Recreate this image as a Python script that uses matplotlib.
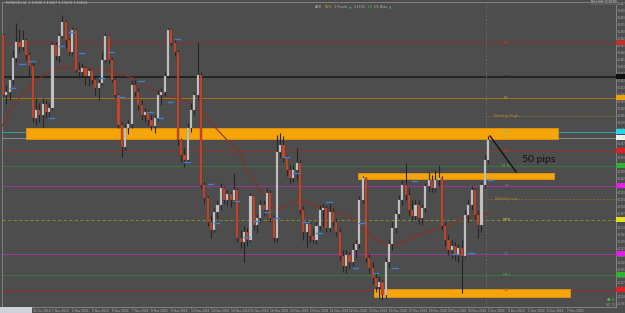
import matplotlib
matplotlib.use("Agg")
import matplotlib.pyplot as plt
import numpy as np
from matplotlib.patches import Rectangle
from matplotlib.transforms import blended_transform_factory

# ---------------- data (prices in points: price * 10000) ----------------
first_open = 11465
close_pts = [11405,11408,11420,11442,11458,11453,11460,11445,11434,11382,
             11390,11385,11396,11388,11392,11455,11444,11464,11478,11460,
             11448,11470,11430,11428,11432,11424,11429,11420,11412,11417,
             11440,11464,11440,11420,11405,11375,11353,11372,11376,11415,
             11408,11395,11385,11388,11380,11374,11382,11405,11408,11424,
             11470,11457,11448,11360,11345,11340,11372,11390,11405,11425,
             11315,11302,11278,11270,11288,11295,11312,11300,11306,11300,
             11310,11262,11258,11268,11260,11304,11275,11282,11295,11290,
             11307,11282,11262,11348,11355,11342,11330,11322,11330,11337,
             11290,11268,11276,11264,11260,11274,11290,11292,11272,11288,
             11278,11268,11244,11234,11245,11238,11250,11256,11300,11322,
             11242,11232,11222,11213,11218,11205,11238,11256,11272,11286,
             11300,11315,11305,11290,11284,11295,11282,11292,11314,11320,
             11312,11320,11322,11274,11260,11250,11254,11245,11252,11244,
             11285,11295,11310,11285,11275,11315,11340,11360]
high_pts = [11467,11415,11423,11450,11477,11471,11470,11462,11448,11438,
            11402,11397,11402,11400,11397,11458,11458,11467,11485,11480,
            11462,11473,11472,11438,11437,11434,11432,11430,11422,11421,
            11448,11467,11465,11442,11422,11407,11378,11376,11380,11420,
            11420,11412,11400,11392,11390,11385,11385,11410,11412,11428,
            11472,11471,11460,11450,11362,11352,11377,11397,11408,11458,
            11428,11318,11304,11285,11292,11300,11317,11314,11310,11308,
            11327,11312,11270,11274,11272,11307,11305,11286,11300,11300,
            11312,11310,11285,11365,11367,11364,11345,11335,11335,11352,
            11340,11294,11280,11278,11272,11278,11295,11296,11295,11297,
            11292,11282,11272,11250,11250,11248,11257,11260,11304,11324,
            11323,11246,11238,11228,11224,11220,11242,11260,11278,11290,
            11305,11320,11337,11312,11300,11300,11300,11296,11317,11328,
            11325,11330,11335,11324,11278,11265,11260,11258,11256,11260,
            11290,11300,11314,11312,11290,11318,11345,11364]
low_pts = [11403,11396,11400,11416,11438,11448,11450,11440,11424,11378,
           11375,11378,11373,11382,11383,11390,11440,11438,11462,11452,
           11445,11445,11428,11422,11425,11415,11414,11416,11405,11400,
           11415,11438,11437,11418,11402,11372,11343,11350,11366,11372,
           11404,11390,11380,11378,11375,11370,11367,11380,11395,11404,
           11422,11454,11444,11355,11338,11333,11338,11368,11385,11400,
           11312,11297,11274,11262,11268,11282,11290,11296,11295,11293,
           11297,11258,11252,11238,11254,11258,11270,11267,11278,11285,
           11288,11278,11258,11258,11342,11338,11324,11317,11318,11320,
           11286,11260,11253,11258,11257,11256,11270,11274,11268,11268,
           11274,11264,11240,11228,11227,11232,11234,11242,11252,11297,
           11238,11227,11216,11208,11202,11200,11202,11232,11250,11267,
           11282,11295,11300,11285,11280,11280,11276,11275,11288,11308,
           11308,11308,11314,11270,11254,11245,11242,11240,11238,11207,
           11242,11278,11290,11280,11262,11268,11312,11337]

# moving average read at a few bars
ma_bar = [-0.9, 2.1, 5.2, 9.1, 13.3, 17.3, 20.3, 23.3, 26.4, 29.4, 32.4, 36.4, 39.4,
          41.5, 45.5, 49.7, 52.7, 55.8, 59.7, 63.6, 67.9, 71.8, 73.9, 77.0, 80.0,
          83.0, 86.1, 89.1, 92.1, 96.1, 100.0, 105.2, 108.2, 113.3, 117.3, 120.3,
          125.5, 130.3, 135.5, 140.6, 147.0]
ma_pts = [11370, 11390, 11403, 11417, 11427, 11432, 11433, 11432, 11432, 11430,
          11428, 11425, 11422, 11418, 11410, 11403, 11403, 11398, 11390, 11375,
          11360, 11347, 11330, 11313, 11303, 11290, 11295, 11300, 11297, 11293,
          11290, 11283, 11273, 11260, 11253, 11257, 11265, 11270, 11275, 11283,
          11287]

# short blue signal marks (bar, price points)
sig_bar = [2, 5, 8, 14, 17, 20, 23, 29, 32, 35, 41, 44, 47, 50, 52, 55, 62, 64, 70,
           73, 76, 79, 82, 85, 88, 91, 95, 98, 106, 108, 112, 118, 124, 136, 141, 147]
sig_pts = [11412, 11436, 11439, 11382, 11454, 11468, 11447, 11422, 11448, 11403,
           11419, 11388, 11382, 11398, 11461, 11338, 11316, 11277, 11299, 11263,
           11279, 11288, 11282, 11343, 11327, 11278, 11267, 11298, 11232, 11277,
           11227, 11232, 11319, 11246, 11247, 11320]

# horizontal levels: points, label, line colour, style, axis-marker colour
level_pts = [11457, 11423, 11402, 11368, 11362, 11349, 11334, 11314, 11280, 11246, 11225, 11210]
level_lbl = ["R3", "MR2", "R2", "MR1", "", "R1", "M R1", "PP", "MPP", "S1", "MS1", "S2"]
level_col = ["#7a3a32", "#1c1c1c", "#a0701f", "#3a9aa0", "#858585", "#853a2f",
             "#3b723b", "#8e3a8e", "#85852e", "#923c92", "#3b723b", "#923030"]
level_ls = ["-", "-", "-", "-", "-", "-", "-", "-", "--", "-", "-", "-"]
level_mark = ["#c0302a", "#101010", "#f0a000", "#20d8e8", "#eeeeee", "#e02020",
              "#30b030", "#e020e0", "#e0e020", "#e020e0", "#30b030", "#e02020"]
level_txt = ["#b04030", "#2a2a2a", "#c89030", "#80c080", "", "#c04030",
             "#50a050", "#b050b0", "#c0c040", "#b050b0", "#50a050", "#d04030"]

# weekly high / low dashed levels (start bar)
week_pts = [11383.5, 11301]
week_lbl = ["Weekly High", "Weekly Low"]
week_start = 146.7

# supply / demand zones: (bar start, bar end, low pts, high pts)
zone_start = [7.0, 107.6, 112.4]
zone_end = [168.2, 167.0, 171.8]
zone_low = [11361, 11320.5, 11203]
zone_high = [11372, 11327, 11211]

current_bar = 146.4
tick_labels = ["31 Oct 2018", "1 Nov 2018", "2 Nov 2018",
               "5 Nov 2018", "6 Nov 2018", "7 Nov 2018", "8 Nov 2018", "9 Nov 2018",
               "12 Nov 2018", "13 Nov 2018", "14 Nov 2018", "15 Nov 2018", "16 Nov 2018",
               "19 Nov 2018", "20 Nov 2018", "21 Nov 2018", "22 Nov 2018", "23 Nov 2018",
               "26 Nov 2018", "27 Nov 2018", "28 Nov 2018", "29 Nov 2018", "30 Nov 2018",
               "3 Dec 2018", "4 Dec 2018", "5 Dec 2018", "6 Dec 2018", "7 Dec 2018"]

# ---------------- drawing ----------------
S = 1e-4
close = np.array(close_pts) * S
high = np.array(high_pts) * S
low = np.array(low_pts) * S
opn = np.concatenate([[first_open * S], close[:-1]])
n = len(close)
idx = np.arange(n)

BG = "#4d4d4d"
fig = plt.figure(figsize=(6.25, 3.13), dpi=100, facecolor=BG)
ax = fig.add_axes([2 / 625, 6 / 313, 614 / 625, 305 / 313], facecolor=BG)
ax.set_xlim(-0.303, 185.76)
ax.set_ylim(1.1193, 1.1498)

# level lines
for p, c, ls in zip(level_pts, level_col, level_ls):
    if ls == "--":
        ax.axhline(p * S, color=c, lw=0.8, ls=(0, (3, 2)), zorder=1)
    else:
        ax.axhline(p * S, color=c, lw=1.2 if c == "#1c1c1c" else 0.8, zorder=1)
for p in week_pts:
    ax.plot([week_start, 186], [p * S, p * S], color="#85672a", lw=0.7, ls=(0, (2, 1.5)), zorder=1)

ax.axvline(current_bar, color="#6c6c6c", lw=0.6, ls=(0, (2, 2)), zorder=1)

# zones
for xs, xe, lo, hi in zip(zone_start, zone_end, zone_low, zone_high):
    ax.add_patch(Rectangle((xs, lo * S), xe - xs, (hi - lo) * S, facecolor="#f5a50a",
                           edgecolor="#e09406", lw=0.6, zorder=2))

# moving average
ax.plot(ma_bar, np.array(ma_pts) * S, color="#8c2f22", lw=0.8, zorder=3)

# candles: light grey = rising, red = falling
rising = close > opn
ax.vlines(idx, low, high, color="#262626", lw=0.8, zorder=4)
body_lo = np.minimum(opn, close)
body_h = np.maximum(np.abs(close - opn), 0.00012)
ax.bar(idx[rising], body_h[rising], bottom=body_lo[rising], width=0.62, color="#c4c4c4",
       edgecolor="#9a9a9a", lw=0.2, zorder=5)
falling = ~rising
ax.bar(idx[falling], body_h[falling], bottom=body_lo[falling], width=0.62, color="#c9462a",
       edgecolor="#8a2a1a", lw=0.2, zorder=5)

# blue signal marks
for b, p in zip(sig_bar, sig_pts):
    ax.plot([b, b + 1.6], [p * S, p * S], color="#3d7fc8", lw=1.0, zorder=6)

# level labels
for p, t, c in zip(level_pts, level_lbl, level_txt):
    if t:
        ax.text(152.6, p * S, t, fontsize=2.8, color=c, ha="center", va="center", zorder=7)
for p, t in zip(week_pts, week_lbl):
    ax.text(152.6, p * S, t, fontsize=2.8, color="#b08a3a", ha="center", va="center", zorder=7)

# right-axis level markers
tr = blended_transform_factory(ax.transAxes, ax.transData)
for p, c in zip(level_pts, level_mark):
    ax.add_patch(Rectangle((1.0, p * S - 0.00025), 0.0147, 0.0005, transform=tr,
                           facecolor=c, edgecolor="none", clip_on=False, zorder=8))

# 50 pips annotation
ax.plot([147.6, 155.5], [1.1364, 1.1328], color="#111111", lw=1.0, zorder=8)
ax.text(157.3, 1.1340, "50 pips", fontsize=7.5, family="Lato", color="#111111",
        ha="left", va="center", zorder=8)

# axes styling
ax.yaxis.tick_right()
yt = np.arange(1.1196, 1.1498, 0.0007)
ax.set_yticks(yt)
ax.set_yticklabels(["%.4f" % v for v in yt], family="Liberation Sans")
ax.tick_params(axis="y", labelsize=1.8, colors="#b0b0b0", length=0.8, width=0.4, pad=0.2)
ax.set_xticks(9 + np.arange(len(tick_labels)) * 6)
ax.set_xticklabels(tick_labels, ha="left", family="Liberation Sans")
ax.tick_params(axis="x", labelsize=2.3, colors="#b0b0b0", length=0.8, width=0.4, pad=0.4)
for s in ax.spines.values():
    s.set_color("#8a8a8a")
    s.set_linewidth(0.6)

# header texts
fig.text(6 / 625, 1 - 2.5 / 313, "EURUSD,H4  1.13598 1.13657 1.13574 1.13614", fontsize=2.4,
         color="#c0c0c0", va="center")
hdr = [("ADR", "#b0b0b0"), ("55%", "#d0b030"), ("1 Pivots", "#b0b0b0"), ("\u25b2", "#40c040"),
       ("1.1390", "#b0b0b0"), ("H4", "#40c040"), ("D1 Bias", "#b0b0b0"), ("\u25b2", "#40c040")]
renderer = fig.canvas.get_renderer()
xcur = 315.0
for t, c in hdr:
    tx = fig.text(xcur / 625, 1 - 7.5 / 313, t, fontsize=2.4, color=c, va="center")
    bb = tx.get_window_extent(renderer)
    xcur = bb.x1 + 2.0
fig.text(604 / 625, 1 - 2 / 313, "Time left: 2:13:05", fontsize=2.2, color="#c8c8c8",
         ha="center", va="center",
         bbox=dict(boxstyle="square,pad=0.2", fc="#5c5c5c", ec="none"))
fig.text(607 / 625, 1 - 299.5 / 313, "\u25cf 0", fontsize=3.0, color="#40c040", ha="left", va="center")
fig.text(606 / 625, 1 - 304.5 / 313, "SP 11", fontsize=2.4, color="#a0a0a0", ha="left", va="center")
fig.patches.append(Rectangle((0, 0), 32 / 625, 6 / 313, transform=fig.transFigure,
                             facecolor="#cfd3d8", edgecolor="none"))

fig.savefig("out.png", dpi=100, facecolor=BG)
